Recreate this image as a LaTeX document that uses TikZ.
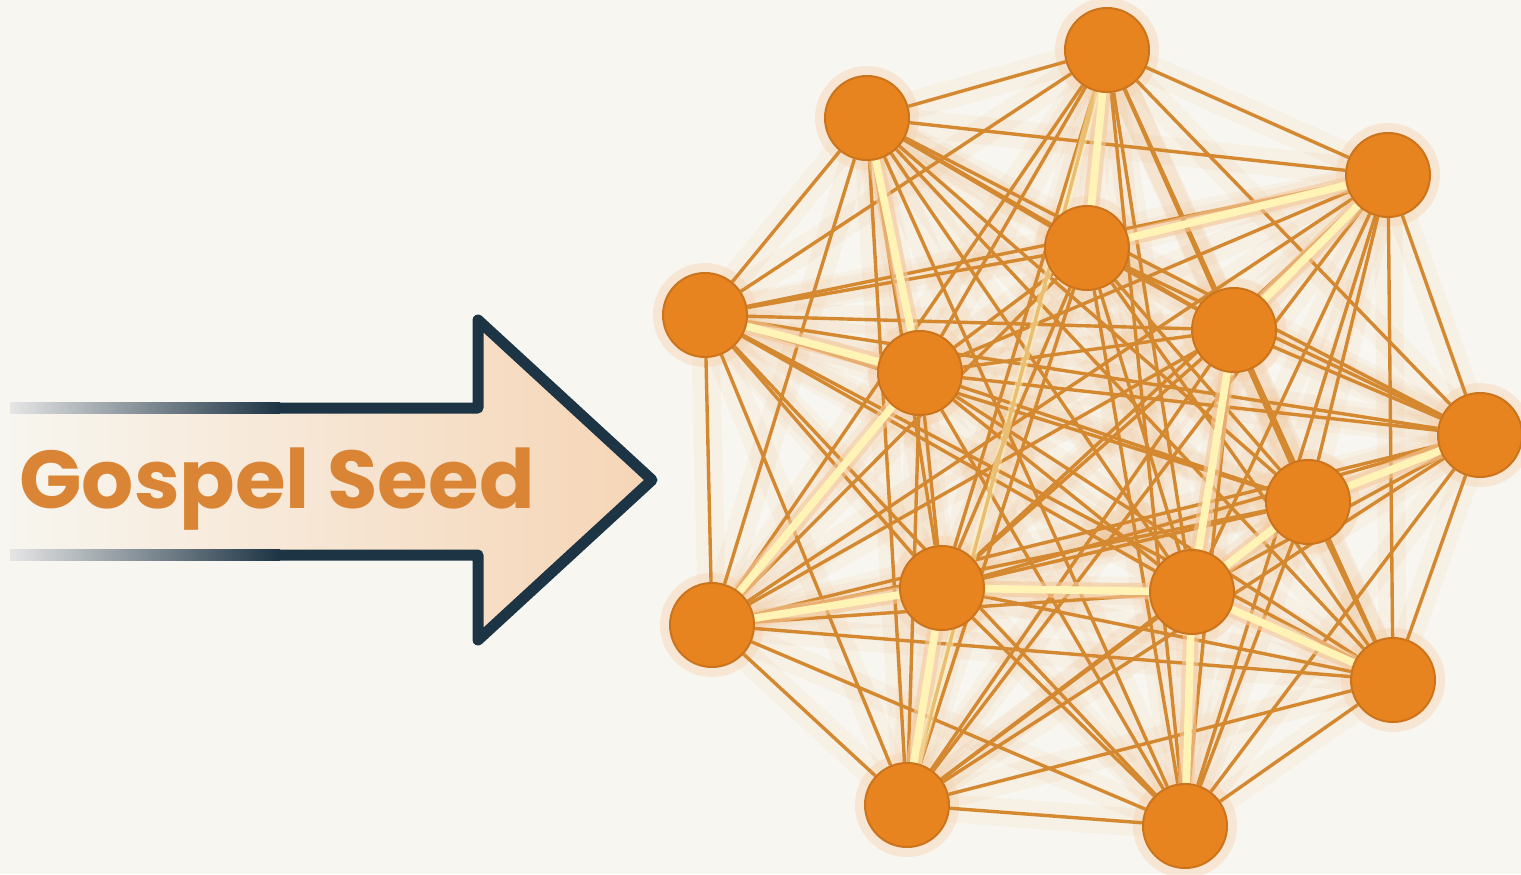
\documentclass[tikz,border=0pt]{standalone}
\usepackage{fontspec}
\setmainfont{Poppins}
\definecolor{paper}{HTML}{F7F6F0}
\definecolor{seedorange}{HTML}{E8841F}
\definecolor{linkorange}{HTML}{D4882F}
\definecolor{cream}{HTML}{FFF3B5}
\definecolor{navy}{HTML}{1D3444}
\definecolor{peach}{HTML}{F6D5B6}
\definecolor{labelorange}{HTML}{D98535}
\pgfdeclarelayer{background}
\pgfsetlayers{background,main}

\begin{document}
\begin{tikzpicture}[x=0.5pt,y=-0.5pt,
		member/.style={circle,fill=seedorange,draw=seedorange!88!black,line width=1pt,minimum size=42pt,inner sep=0pt},
		halo/.style={circle,fill=seedorange!35,opacity=0.45,minimum size=52pt,inner sep=0pt},
		link/.style={draw=linkorange,line width=1.7pt},
		haze/.style={draw=seedorange!75,line width=14pt,opacity=0.07},
		bright/.style={draw=cream,line width=3.8pt},
		brightglow/.style={draw=seedorange!45,line width=8pt,opacity=0.6}]
	\useasboundingbox (0,0) rectangle (1521,874);

	% the network
	\foreach \name/\x/\y in {n1/1107/50, n2/867/118, n3/1388/175, n4/705/315,
		n5/1480/435, n6/712/625, n7/1393/680, n8/907/805, n9/1185/826,
		n10/1087/248, n11/1234/330, n12/920/373, n13/1308/502, n14/942/588, n15/1192/592}
		\node[member] (\name) at (\x,\y) {};

	\begin{pgfonlayer}{background}
		\fill[paper] (0,0) rectangle (1521,874);
		\foreach \i in {1,...,14}{
			\pgfmathtruncatemacro\next{\i+1}
			\foreach \j in {\next,...,15}
				\draw[haze] (n\i.center) -- (n\j.center);
		}
		\foreach \i in {1,...,15}
			\node[halo] at (n\i) {};
		\foreach \i in {1,...,14}{
			\pgfmathtruncatemacro\next{\i+1}
			\foreach \j in {\next,...,15}
				\draw[link] (n\i) -- (n\j);
		}
		% glowing paths
		\foreach \a/\b in {4/12, 2/12, 1/10, 10/3, 3/11, 12/6, 6/14, 14/15,
			15/13, 13/5, 15/7, 15/9, 11/15, 14/8}{
			\draw[brightglow] (n\a) -- (n\b);
			\draw[bright] (n\a) -- (n\b);
		}
		\draw[bright,opacity=0.5] (n1) -- (n8);
	\end{pgfonlayer}

	% the arrow
	\shade[left color=paper,right color=peach] (0,408) -- (478,408) -- (478,320)
		-- (652,480) -- (478,640) -- (478,555) -- (0,555) -- cycle;
	\shade[left color=gray!20,right color=navy] (10,402.5) rectangle (280,413.5);
	\shade[left color=gray!20,right color=navy] (10,549.5) rectangle (280,560.5);
	\draw[navy,line width=5.5pt,line join=round] (280,408) -- (478,408) -- (478,320)
		-- (652,480) -- (478,640) -- (478,555) -- (280,555);
	\node[anchor=base,text=labelorange,font=\fontsize{41}{49}\selectfont\bfseries]
		(seed) at (277,508) {Gospel Seed};
\end{tikzpicture}
\end{document}
